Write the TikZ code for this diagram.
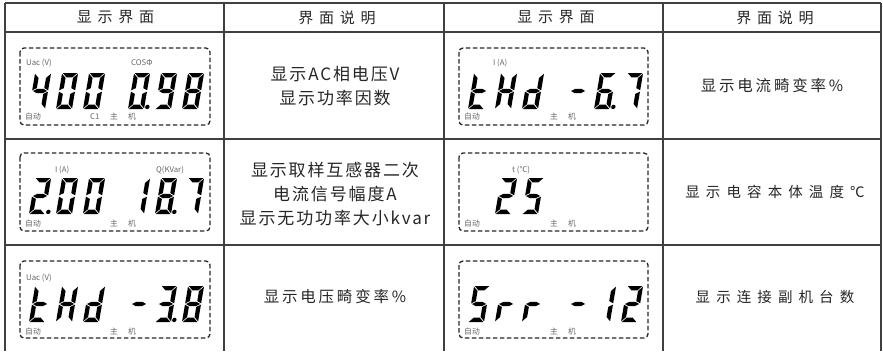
\documentclass[tikz,border=0pt]{standalone}
\usepackage{fontspec}
\setmainfont{Noto Sans CJK SC}
\newfontfamily\hdfont[LetterSpace=38]{Noto Sans CJK SC}
\newfontfamily\bfont[LetterSpace=11]{Noto Sans CJK SC}
\newfontfamily\mfont[LetterSpace=18]{Noto Sans CJK SC}
\newfontfamily\wfont[LetterSpace=42]{Noto Sans CJK SC}
\newfontfamily\lfont{Noto Sans CJK SC}
\tikzset{
  gridline/.style={line width=1.2pt, draw=black!75},
  lcdbox/.style={draw=black!85, line width=1.3pt, dash pattern=on 4.5pt off 2.5pt, rounded corners=4pt},
  seg/.style={fill=black},
  lbl/.style={font=\lfont\fontsize{7.8}{8}\selectfont, text=black!60, inner sep=0pt, anchor=west},
  hdr/.style={font=\hdfont\fontsize{15}{17}\selectfont, text=black!85, inner sep=0pt},
  btxt/.style={font=\bfont\fontsize{17}{24}\selectfont, text=black!85, align=center, inner sep=0pt},
  mtxt/.style={font=\mfont\fontsize{15.5}{18}\selectfont, text=black!85, inner sep=0pt},
  wtxt/.style={font=\wfont\fontsize{14.5}{18}\selectfont, text=black!85, inner sep=0pt}
}
\def\Dzero{a,b,c,d,e,f}
\def\Done{b,c}
\def\Dtwo{a,b,g,e,d}
\def\Dthree{a,b,g,c,d}
\def\Dfour{f,g,b,c}
\def\Dfive{a,f,g,c,d}
\def\Dsix{a,f,g,e,d,c}
\def\Dseven{a,b,c}
\def\Deight{a,b,c,d,e,f,g}
\def\Dnine{a,b,c,d,f,g}
\def\Dt{d,e,f,g}
\def\DH{b,c,e,f,g}
\def\Dd{b,c,d,e,g}
\def\Dr{e,g}
\def\Dminus{g}
\newcommand\lcdd[3]{%
  \begin{scope}[shift={(#1,#2)}, y={(0pt,1pt)}, xslant=0.17]
  \foreach \s in #3 {%
    \if a\s \fill[seg] (0.7,36) -- (15.3,36) -- (11,31.7) -- (5,31.7) -- cycle;\fi
    \if d\s \fill[seg] (0.7,0) -- (15.3,0) -- (11,4.3) -- (5,4.3) -- cycle;\fi
    \if g\s \fill[seg] (0.9,18) -- (5,20.15) -- (11,20.15) -- (15.1,18) -- (11,15.85) -- (5,15.85) -- cycle;\fi
    \if f\s \fill[seg] (0,35.3) -- (4.3,31) -- (4.3,20.9) -- (0,18.7) -- cycle;\fi
    \if b\s \fill[seg] (16,35.3) -- (11.7,31) -- (11.7,20.9) -- (16,18.7) -- cycle;\fi
    \if e\s \fill[seg] (0,0.7) -- (4.3,5) -- (4.3,15.1) -- (0,17.3) -- cycle;\fi
    \if c\s \fill[seg] (16,0.7) -- (11.7,5) -- (11.7,15.1) -- (16,17.3) -- cycle;\fi
  }
  \end{scope}}
\newcommand\lcdpt[2]{%
  \begin{scope}[shift={(#1,#2)}, y={(0pt,1pt)}, xslant=0.17]
  \fill[seg] (19,2.1) circle (2.2);
  \end{scope}}
\begin{document}
\begin{tikzpicture}[x=1pt, y=-1pt]
\useasboundingbox (0,0) rectangle (883,351);
% table grid
\draw[gridline] (5,3) -- (881,3);
\draw[gridline] (5,32) -- (881,32);
\draw[gridline] (5,139) -- (881,139);
\draw[gridline] (5,245) -- (881,245);
\foreach \gx in {5,224,444,663,881} \draw[gridline] (\gx,3) -- (\gx,351);
% headers
\node[hdr] (h1) at (115.5,17.5) {显示界面};
\node[hdr] (h2) at (337,17.5) {界面说明};
\node[hdr] (h3) at (556,17.5) {显示界面};
\node[hdr] (h4) at (775,17.5) {界面说明};
% descriptions
\node[btxt] (t1) at (335,86) {显示AC相电压V\\显示功率因数};
\node[btxt] (t2) at (335,194) {显示取样互感器二次\\电流信号幅度A\\显示无功功率大小kvar};
\node[mtxt] (t3) at (335,297) {显示电压畸变率\%};
\node[mtxt] (t4) at (772,86) {显示电流畸变率\%};
\node[wtxt] (t5) at (775,192) {显示电容本体温度℃};
\node[wtxt] (t6) at (775,297) {显示连接副机台数};
% LCD boxes
\draw[lcdbox] (20,48) rectangle (210,125);
\draw[lcdbox] (20,153) rectangle (210,231);
\draw[lcdbox] (20,261) rectangle (210,338);
\draw[lcdbox] (459,48) rectangle (648,125);
\draw[lcdbox] (459,153) rectangle (648,231);
\draw[lcdbox] (459,261) rectangle (648,338);
% row 1 col 1 : 400 0.98
\lcdd{29}{109}{\Dfour}\lcdd{56}{109}{\Dzero}\lcdd{83}{109}{\Dzero}
\lcdd{128}{109}{\Dzero}\lcdpt{128}{109}\lcdd{155}{109}{\Dnine}\lcdd{182}{109}{\Deight}
\node[lbl] (l1a) at (26,63) {Uac (V)};
\node[lbl] (l1b) at (131,63) {COSΦ};
\node[lbl] (l1c) at (25,117) {自动};
\node[lbl] (l1d) at (90,117) {C1};
\node[lbl] (l1e) at (110,117) {主\hspace{10pt}机};
% row 2 col 1 : 2.00 18.7
\lcdd{29}{214}{\Dtwo}\lcdpt{29}{214}\lcdd{56}{214}{\Dzero}\lcdd{83}{214}{\Dzero}
\lcdd{128}{214}{\Done}\lcdd{155}{214}{\Deight}\lcdpt{155}{214}\lcdd{182}{214}{\Dseven}
\node[lbl] (l2a) at (55,170) {I (A)};
\node[lbl] (l2b) at (156,170) {Q(KVar)};
\node[lbl] (l2c) at (25,224) {自动};
\node[lbl] (l2e) at (110,224) {主\hspace{10pt}机};
% row 3 col 1 : tHd -3.8
\lcdd{29}{322}{\Dt}\lcdd{56}{322}{\DH}\lcdd{83}{322}{\Dd}
\lcdd{128}{322}{\Dminus}\lcdd{155}{322}{\Dthree}\lcdpt{155}{322}\lcdd{182}{322}{\Deight}
\node[lbl] (l3a) at (26,278) {Uac (V)};
\node[lbl] (l3c) at (25,332) {自动};
\node[lbl] (l3e) at (110,332) {主\hspace{10pt}机};
% row 1 col 3 : tHd -6.7
\lcdd{468}{109}{\Dt}\lcdd{495}{109}{\DH}\lcdd{522}{109}{\Dd}
\lcdd{567}{109}{\Dminus}\lcdd{594}{109}{\Dsix}\lcdpt{594}{109}\lcdd{621}{109}{\Dseven}
\node[lbl] (r1a) at (493,63) {I (A)};
\node[lbl] (r1c) at (464,117) {自动};
\node[lbl] (r1e) at (550,117) {主\hspace{10pt}机};
% row 2 col 3 : 25
\lcdd{495}{214}{\Dtwo}\lcdd{522}{214}{\Dfive}
\node[lbl] (r2a) at (512,170) {t (℃)};
\node[lbl] (r2c) at (464,224) {自动};
\node[lbl] (r2e) at (550,224) {主\hspace{10pt}机};
% row 3 col 3 : Srr -12
\lcdd{468}{322}{\Dfive}\lcdd{495}{322}{\Dr}\lcdd{522}{322}{\Dr}
\lcdd{567}{322}{\Dminus}\lcdd{594}{322}{\Done}\lcdd{621}{322}{\Dtwo}
\node[lbl] (r3c) at (464,332) {自动};
\node[lbl] (r3e) at (550,332) {主\hspace{10pt}机};
\end{tikzpicture}
\end{document}
